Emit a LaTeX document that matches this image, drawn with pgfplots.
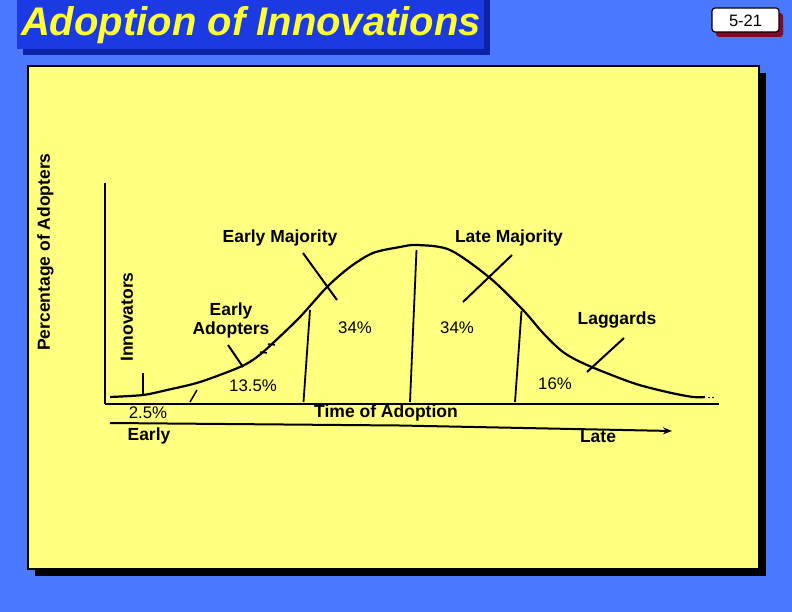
\documentclass[border=0pt]{standalone}
\usepackage{pgfplots}
\pgfplotsset{compat=1.18}
\usepackage{fontspec}
\setmainfont{Liberation Sans}
\usetikzlibrary{arrows.meta}
\definecolor{bgblue}{RGB}{74,120,255}
\definecolor{titleblue}{RGB}{28,58,228}
\definecolor{titleshadow}{RGB}{14,34,165}
\definecolor{titleyellow}{RGB}{255,255,51}
\definecolor{panel}{RGB}{255,255,128}
\definecolor{maroon}{RGB}{130,10,40}
\newcommand{\lb}{\fontsize{17.5bp}{19bp}\selectfont\bfseries}
\newcommand{\lr}{\fontsize{16.8bp}{19bp}\selectfont}
\begin{document}
\begin{tikzpicture}
\begin{axis}[at={(0,0)}, anchor=south west, width=792bp, height=612bp,
  scale only axis, xmin=0, xmax=792, ymin=0, ymax=612, y dir=reverse,
  hide axis, clip=false]
% background
\fill[bgblue] (axis cs:0,0) rectangle (axis cs:792,612);
% title box
\fill[titleshadow] (axis cs:23,-2) rectangle (axis cs:490,55);
\fill[titleblue] (axis cs:17,-2) rectangle (axis cs:484,49);
\node[text=titleyellow, font=\fontsize{40bp}{44bp}\selectfont\bfseries\itshape, inner sep=0pt] at (axis cs:251,25) {Adoption of Innovations};
% page number box
\fill[maroon, rounded corners=3bp] (axis cs:716,13) rectangle (axis cs:783,37);
\filldraw[fill=white, draw=black, line width=1.2bp, rounded corners=3bp] (axis cs:712,8) rectangle (axis cs:779,32);
\node[font=\fontsize{16.5bp}{18bp}\selectfont, inner sep=0pt] at (axis cs:745.5,20.5) {5-21};
% panel
\fill[black] (axis cs:35,73) rectangle (axis cs:766,576);
\filldraw[fill=panel, draw=black, line width=1.5bp] (axis cs:28,66) rectangle (axis cs:759,569);
% axes
\addplot[black, line width=2bp] coordinates {(105,183) (105,404)};
\addplot[black, line width=2bp] coordinates {(105,403.5) (719,403.5)};
\addplot[black, line width=2bp, -{Stealth[length=9bp,width=7bp]}] coordinates {(110,423) (400,425.5) (672,431)};
% bell curve
\addplot[black, line width=2.2bp, smooth, tension=0.5] coordinates {
(110,397) (143,395) (167,390) (200,382) (240,367) (257,357) (273,343)
(300,317) (327,287) (350,267) (373,253) (400,247) (417,245) (450,250)
(490,278) (523,310) (543,333) (563,352) (587,365) (633,383) (667,392)
(693,397) (705,397)};
\addplot[black, only marks, mark=*, mark size=0.6bp] coordinates {(709,397.5) (713,397.5)};
% divider lines
\addplot[black, line width=1.8bp] coordinates {(143,373) (143,395)};
\addplot[black, line width=1.5bp] coordinates {(190,402) (197,390)};
\addplot[black, line width=1.8bp] coordinates {(303.5,402) (310,310)};
\addplot[black, line width=1.8bp] coordinates {(410,402) (416.5,250)};
\addplot[black, line width=1.8bp] coordinates {(515,402) (521.5,311)};
% small ticks on curve
\addplot[black, line width=1.5bp] coordinates {(260,352) (267,353)};
\addplot[black, line width=1.5bp] coordinates {(268,344) (275,345)};
% pointers
\addplot[black, line width=2bp] coordinates {(303,253) (337,300)};
\addplot[black, line width=2bp] coordinates {(512,255) (463,302)};
\addplot[black, line width=2bp] coordinates {(624,338) (587,372)};
\addplot[black, line width=2bp] coordinates {(228,345) (243,367)};
% labels
\node[font=\lb, rotate=90, inner sep=0pt] at (axis cs:45.5,252) {Percentage of Adopters};
\node[font=\lb, rotate=90, inner sep=0pt] at (axis cs:127,317) {Innovators};
\node[font=\lb, inner sep=0pt] at (axis cs:280,238) {Early Majority};
\node[font=\lb, inner sep=0pt] at (axis cs:509,238) {Late Majority};
\node[font=\lb, inner sep=0pt, align=center] at (axis cs:231,320) {Early\\Adopters};
\node[font=\lb, inner sep=0pt] at (axis cs:617,320) {Laggards};
\node[font=\lb, inner sep=0pt] at (axis cs:386,413) {Time of Adoption};
\node[font=\lb, inner sep=0pt] at (axis cs:149,436) {Early};
\node[font=\lb, inner sep=0pt] at (axis cs:598,436.5) {Late};
\node[font=\lr, inner sep=0pt] at (axis cs:355,328) {34\%};
\node[font=\lr, inner sep=0pt] at (axis cs:457,328) {34\%};
\node[font=\lr, inner sep=0pt] at (axis cs:253,386) {13.5\%};
\node[font=\lr, inner sep=0pt] at (axis cs:555,384) {16\%};
\node[font=\lr, inner sep=0pt] at (axis cs:148,413) {2.5\%};
\end{axis}
\pgfresetboundingbox
\path (0,0) rectangle (792bp,612bp);
\end{tikzpicture}
\end{document}
